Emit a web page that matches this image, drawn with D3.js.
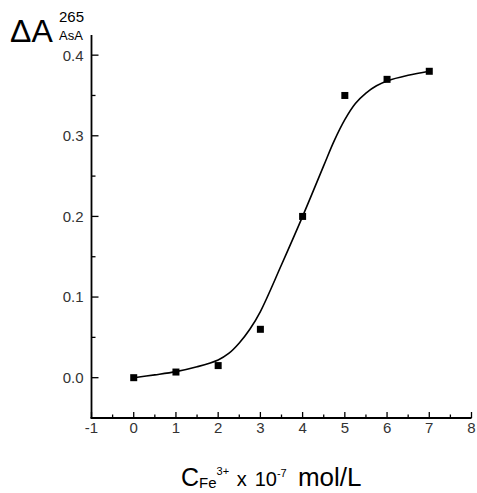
<!DOCTYPE html>
<html>
<head>
<meta charset="utf-8">
<script src="https://cdn.jsdelivr.net/npm/d3@7"></script>
<style>
  body { margin: 0; background: #fff; }
  svg text { font-family: "Liberation Sans", Arial, sans-serif; }
</style>
</head>
<body>
<div id="chart"></div>
<script>
// measured points
var concX = [0, 1, 2, 3, 4, 5, 6, 7];
var deltaA = [0.0, 0.007, 0.015, 0.06, 0.2, 0.35, 0.37, 0.38];

// fitted curve
var fitX = [0, 0.5, 1, 1.5, 2, 2.25, 2.5, 2.75, 3, 3.5, 4, 4.5, 4.75, 5, 5.25, 5.5, 5.75, 6, 6.5, 7];
var fitY = [0, 0.0035, 0.0075, 0.0135, 0.022, 0.03, 0.043, 0.06, 0.082, 0.14, 0.2, 0.263, 0.294, 0.32, 0.34, 0.353, 0.362, 0.368, 0.375, 0.38];

var xTicks = [-1, 0, 1, 2, 3, 4, 5, 6, 7, 8];
var yTicks = [0.0, 0.1, 0.2, 0.3, 0.4];

var width = 477, height = 493;

var svg = d3.select("#chart").append("svg")
    .attr("width", width)
    .attr("height", height);

var x = d3.scaleLinear().domain([-1, 8]).range([91.5, 471.5]);
var y = d3.scaleLinear().domain([-0.05, 0.425]).range([418, 35]);

// minor ticks
var xMinor = d3.range(-0.5, 8, 1);
var yMinor = [0.05, 0.15, 0.25, 0.35];

var xAxis = svg.append("g")
    .attr("transform", "translate(0," + y.range()[0] + ")");
xAxis.append("line")
    .attr("x1", x.range()[0] - 1).attr("x2", x.range()[1])
    .attr("stroke", "#000").attr("stroke-width", 1.8);
xAxis.selectAll(".maj").data(xTicks).enter().append("line")
    .attr("x1", d => x(d)).attr("x2", d => x(d))
    .attr("y1", 0).attr("y2", -6)
    .attr("stroke", "#000").attr("stroke-width", 1.3);
xAxis.selectAll(".min").data(xMinor).enter().append("line")
    .attr("x1", d => x(d)).attr("x2", d => x(d))
    .attr("y1", 0).attr("y2", -3.5)
    .attr("stroke", "#000").attr("stroke-width", 1.3);
xAxis.selectAll("text").data(xTicks).enter().append("text")
    .attr("x", d => x(d))
    .attr("y", 15)
    .attr("text-anchor", "middle")
    .attr("font-size", 15)
    .attr("fill", "#333")
    .text(d => d);

var yAxis = svg.append("g")
    .attr("transform", "translate(" + x.range()[0] + ",0)");
yAxis.append("line")
    .attr("y1", y.range()[0]).attr("y2", y.range()[1])
    .attr("stroke", "#000").attr("stroke-width", 1.8);
yAxis.selectAll(".maj").data(yTicks).enter().append("line")
    .attr("y1", d => y(d)).attr("y2", d => y(d))
    .attr("x1", 0).attr("x2", 7)
    .attr("stroke", "#000").attr("stroke-width", 1.3);
yAxis.selectAll(".min").data(yMinor).enter().append("line")
    .attr("y1", d => y(d)).attr("y2", d => y(d))
    .attr("x1", 0).attr("x2", 4)
    .attr("stroke", "#000").attr("stroke-width", 1.3);
yAxis.selectAll("text").data(yTicks).enter().append("text")
    .attr("x", -8)
    .attr("y", d => y(d))
    .attr("dy", "0.36em")
    .attr("text-anchor", "end")
    .attr("font-size", 15)
    .attr("fill", "#333")
    .text(d => d3.format(".1f")(d));

// fit line
var fit = fitX.map((d, i) => [d, fitY[i]]);
var line = d3.line()
    .x(d => x(d[0]))
    .y(d => y(d[1]))
    .curve(d3.curveCatmullRom.alpha(0.5));
svg.append("path")
    .datum(fit)
    .attr("d", line)
    .attr("fill", "none")
    .attr("stroke", "#000")
    .attr("stroke-width", 1.6);

// squares
var pts = concX.map((d, i) => [d, deltaA[i]]);
svg.selectAll(".pt").data(pts).enter().append("rect")
    .attr("x", d => x(d[0]) - 3.5)
    .attr("y", d => y(d[1]) - 3.5)
    .attr("width", 7).attr("height", 7)
    .attr("fill", "#000");

// y title
svg.append("text").attr("x", 10).attr("y", 42).attr("font-size", 32).text("\u0394A");
svg.append("text").attr("x", 59).attr("y", 22).attr("font-size", 15).text("265");
svg.append("text").attr("x", 59).attr("y", 40).attr("font-size", 13).text("AsA");

// x title
var xt = svg.append("text").attr("x", 181).attr("y", 486).attr("fill", "#000");
xt.append("tspan").attr("font-size", 25).text("C");
xt.append("tspan").attr("font-size", 15).attr("dy", 2).text("Fe");
xt.append("tspan").attr("font-size", 11).attr("dy", -13).text("3+");
xt.append("tspan").attr("font-size", 20).attr("dy", 11).attr("dx", 2).text(" x");
xt.append("tspan").attr("font-size", 20).attr("dx", 8).text("10");
xt.append("tspan").attr("font-size", 11).attr("dy", -9).text("-7");
xt.append("tspan").attr("font-size", 26).attr("dy", 9).attr("dx", 4).text(" mol/L");
</script>
</body>
</html>
